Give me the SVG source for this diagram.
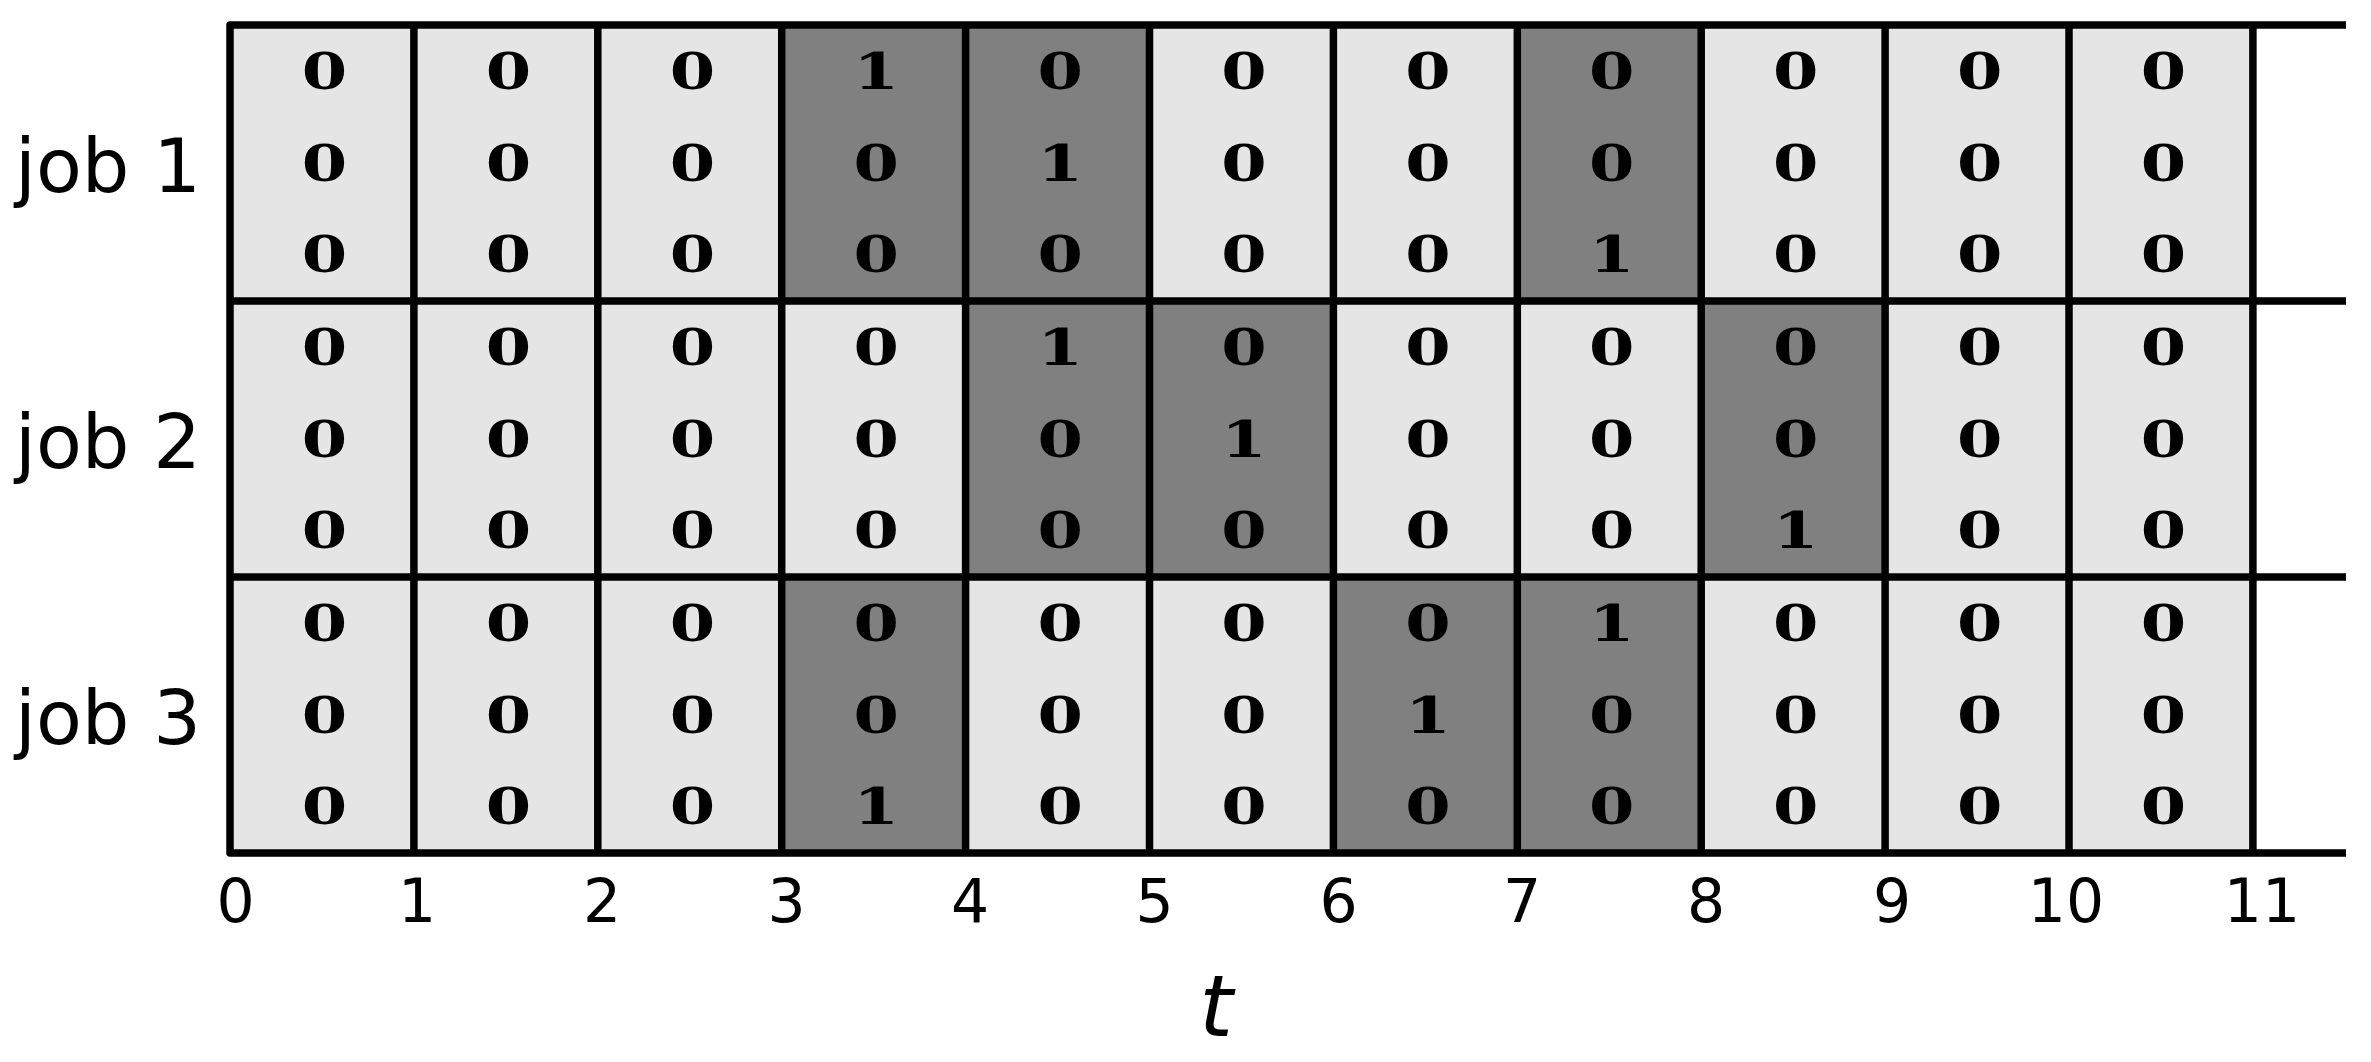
<svg xmlns="http://www.w3.org/2000/svg" width="2371" height="1062" viewBox="0 0 2371 1062">
<style>
.lt{fill:#e5e5e5}
.dk{fill:#808080}
.ln{stroke:#000;stroke-width:7.5;fill:none;stroke-linejoin:round}
.v{font-family:"DejaVu Serif","Liberation Serif",serif;font-weight:bold;font-size:51px;text-anchor:middle;fill:#000}
.job{font-family:"DejaVu Sans","Liberation Sans",sans-serif;font-size:75px;text-anchor:end;fill:#000}
.tk{font-family:"DejaVu Sans","Liberation Sans",sans-serif;font-size:60px;text-anchor:middle;fill:#000}
.ax{font-family:"DejaVu Sans","Liberation Sans",sans-serif;font-size:86px;font-style:italic;text-anchor:middle;fill:#000}
</style>
<rect width="2371" height="1062" fill="#fff"/>
<g id="cells">
<g id="job1-cells">
<rect class="lt" x="230" y="25" width="183.9" height="276"/>
<rect class="lt" x="413.9" y="25" width="183.9" height="276"/>
<rect class="lt" x="597.8" y="25" width="183.9" height="276"/>
<rect class="dk" x="781.7" y="25" width="183.9" height="276"/>
<rect class="dk" x="965.6" y="25" width="183.9" height="276"/>
<rect class="lt" x="1149.5" y="25" width="183.9" height="276"/>
<rect class="lt" x="1333.4" y="25" width="183.9" height="276"/>
<rect class="dk" x="1517.3" y="25" width="183.9" height="276"/>
<rect class="lt" x="1701.2" y="25" width="183.9" height="276"/>
<rect class="lt" x="1885.1" y="25" width="183.9" height="276"/>
<rect class="lt" x="2069" y="25" width="183.9" height="276"/>
</g>
<g id="job2-cells">
<rect class="lt" x="230" y="301" width="183.9" height="276"/>
<rect class="lt" x="413.9" y="301" width="183.9" height="276"/>
<rect class="lt" x="597.8" y="301" width="183.9" height="276"/>
<rect class="lt" x="781.7" y="301" width="183.9" height="276"/>
<rect class="dk" x="965.6" y="301" width="183.9" height="276"/>
<rect class="dk" x="1149.5" y="301" width="183.9" height="276"/>
<rect class="lt" x="1333.4" y="301" width="183.9" height="276"/>
<rect class="lt" x="1517.3" y="301" width="183.9" height="276"/>
<rect class="dk" x="1701.2" y="301" width="183.9" height="276"/>
<rect class="lt" x="1885.1" y="301" width="183.9" height="276"/>
<rect class="lt" x="2069" y="301" width="183.9" height="276"/>
</g>
<g id="job3-cells">
<rect class="lt" x="230" y="577" width="183.9" height="276"/>
<rect class="lt" x="413.9" y="577" width="183.9" height="276"/>
<rect class="lt" x="597.8" y="577" width="183.9" height="276"/>
<rect class="dk" x="781.7" y="577" width="183.9" height="276"/>
<rect class="lt" x="965.6" y="577" width="183.9" height="276"/>
<rect class="lt" x="1149.5" y="577" width="183.9" height="276"/>
<rect class="dk" x="1333.4" y="577" width="183.9" height="276"/>
<rect class="dk" x="1517.3" y="577" width="183.9" height="276"/>
<rect class="lt" x="1701.2" y="577" width="183.9" height="276"/>
<rect class="lt" x="1885.1" y="577" width="183.9" height="276"/>
<rect class="lt" x="2069" y="577" width="183.9" height="276"/>
</g>
</g>
<g id="grid-lines">
<path class="ln" d="M2346,25 H230 V853 H2346"/>
<path class="ln" d="M230,301 H2346 M230,577 H2346"/>
<path class="ln" d="M413.9,25 V853 M597.8,25 V853 M781.7,25 V853 M965.6,25 V853 M1149.5,25 V853 M1333.4,25 V853 M1517.3,25 V853 M1701.2,25 V853 M1885.1,25 V853 M2069,25 V853 M2252.9,25 V853"/>
</g>
<g id="values" transform="scale(1.28,1)">
<g id="job1-values">
<text class="v" x="253.5" y="89.5">0</text><text class="v" x="397.2" y="89.5">0</text><text class="v" x="540.9" y="89.5">0</text><text class="v" x="684.5" y="89.5">1</text><text class="v" x="828.2" y="89.5">0</text><text class="v" x="971.9" y="89.5">0</text><text class="v" x="1115.5" y="89.5">0</text><text class="v" x="1259.2" y="89.5">0</text><text class="v" x="1402.9" y="89.5">0</text><text class="v" x="1546.6" y="89.5">0</text><text class="v" x="1690.2" y="89.5">0</text>
<text class="v" x="253.5" y="181.5">0</text><text class="v" x="397.2" y="181.5">0</text><text class="v" x="540.9" y="181.5">0</text><text class="v" x="684.5" y="181.5">0</text><text class="v" x="828.2" y="181.5">1</text><text class="v" x="971.9" y="181.5">0</text><text class="v" x="1115.5" y="181.5">0</text><text class="v" x="1259.2" y="181.5">0</text><text class="v" x="1402.9" y="181.5">0</text><text class="v" x="1546.6" y="181.5">0</text><text class="v" x="1690.2" y="181.5">0</text>
<text class="v" x="253.5" y="272.5">0</text><text class="v" x="397.2" y="272.5">0</text><text class="v" x="540.9" y="272.5">0</text><text class="v" x="684.5" y="272.5">0</text><text class="v" x="828.2" y="272.5">0</text><text class="v" x="971.9" y="272.5">0</text><text class="v" x="1115.5" y="272.5">0</text><text class="v" x="1259.2" y="272.5">1</text><text class="v" x="1402.9" y="272.5">0</text><text class="v" x="1546.6" y="272.5">0</text><text class="v" x="1690.2" y="272.5">0</text>
</g>
<g id="job2-values">
<text class="v" x="253.5" y="365.5">0</text><text class="v" x="397.2" y="365.5">0</text><text class="v" x="540.9" y="365.5">0</text><text class="v" x="684.5" y="365.5">0</text><text class="v" x="828.2" y="365.5">1</text><text class="v" x="971.9" y="365.5">0</text><text class="v" x="1115.5" y="365.5">0</text><text class="v" x="1259.2" y="365.5">0</text><text class="v" x="1402.9" y="365.5">0</text><text class="v" x="1546.6" y="365.5">0</text><text class="v" x="1690.2" y="365.5">0</text>
<text class="v" x="253.5" y="457.5">0</text><text class="v" x="397.2" y="457.5">0</text><text class="v" x="540.9" y="457.5">0</text><text class="v" x="684.5" y="457.5">0</text><text class="v" x="828.2" y="457.5">0</text><text class="v" x="971.9" y="457.5">1</text><text class="v" x="1115.5" y="457.5">0</text><text class="v" x="1259.2" y="457.5">0</text><text class="v" x="1402.9" y="457.5">0</text><text class="v" x="1546.6" y="457.5">0</text><text class="v" x="1690.2" y="457.5">0</text>
<text class="v" x="253.5" y="548.5">0</text><text class="v" x="397.2" y="548.5">0</text><text class="v" x="540.9" y="548.5">0</text><text class="v" x="684.5" y="548.5">0</text><text class="v" x="828.2" y="548.5">0</text><text class="v" x="971.9" y="548.5">0</text><text class="v" x="1115.5" y="548.5">0</text><text class="v" x="1259.2" y="548.5">0</text><text class="v" x="1402.9" y="548.5">1</text><text class="v" x="1546.6" y="548.5">0</text><text class="v" x="1690.2" y="548.5">0</text>
</g>
<g id="job3-values">
<text class="v" x="253.5" y="641.5">0</text><text class="v" x="397.2" y="641.5">0</text><text class="v" x="540.9" y="641.5">0</text><text class="v" x="684.5" y="641.5">0</text><text class="v" x="828.2" y="641.5">0</text><text class="v" x="971.9" y="641.5">0</text><text class="v" x="1115.5" y="641.5">0</text><text class="v" x="1259.2" y="641.5">1</text><text class="v" x="1402.9" y="641.5">0</text><text class="v" x="1546.6" y="641.5">0</text><text class="v" x="1690.2" y="641.5">0</text>
<text class="v" x="253.5" y="733.5">0</text><text class="v" x="397.2" y="733.5">0</text><text class="v" x="540.9" y="733.5">0</text><text class="v" x="684.5" y="733.5">0</text><text class="v" x="828.2" y="733.5">0</text><text class="v" x="971.9" y="733.5">0</text><text class="v" x="1115.5" y="733.5">1</text><text class="v" x="1259.2" y="733.5">0</text><text class="v" x="1402.9" y="733.5">0</text><text class="v" x="1546.6" y="733.5">0</text><text class="v" x="1690.2" y="733.5">0</text>
<text class="v" x="253.5" y="824.5">0</text><text class="v" x="397.2" y="824.5">0</text><text class="v" x="540.9" y="824.5">0</text><text class="v" x="684.5" y="824.5">1</text><text class="v" x="828.2" y="824.5">0</text><text class="v" x="971.9" y="824.5">0</text><text class="v" x="1115.5" y="824.5">0</text><text class="v" x="1259.2" y="824.5">0</text><text class="v" x="1402.9" y="824.5">0</text><text class="v" x="1546.6" y="824.5">0</text><text class="v" x="1690.2" y="824.5">0</text>
</g>
</g>
<g id="job-labels">
<text id="job1" class="job" x="201" y="191.5">job 1</text>
<text id="job2" class="job" x="201" y="467.5">job 2</text>
<text id="job3" class="job" x="201" y="743.5">job 3</text>
</g>
<g id="ticks">
<text class="tk" x="235.5" y="922">0</text>
<text class="tk" x="417" y="922">1</text>
<text class="tk" x="602" y="922">2</text>
<text class="tk" x="786.5" y="922">3</text>
<text class="tk" x="970" y="922">4</text>
<text class="tk" x="1154.5" y="922">5</text>
<text class="tk" x="1338.5" y="922">6</text>
<text class="tk" x="1522" y="922">7</text>
<text class="tk" x="1706" y="922">8</text>
<text class="tk" x="1892" y="922">9</text>
<text class="tk" x="2066" y="922">10</text>
<text class="tk" x="2262" y="922">11</text>
</g>
<text id="axis-t" class="ax" x="1216" y="1036">t</text>
</svg>
